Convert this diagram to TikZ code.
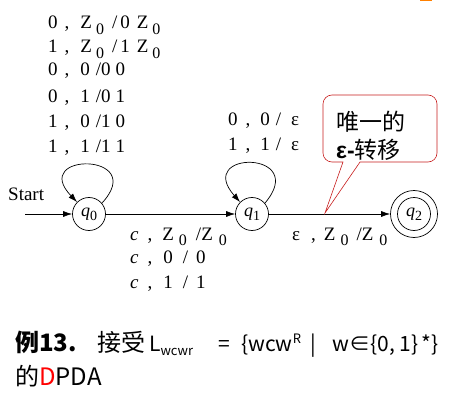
\documentclass[tikz,border=0pt]{standalone}
\usepackage{fontspec}
\setmainfont{Liberation Serif}
\newfontfamily\cjk{Noto Sans CJK SC}
\newfontfamily\lsans{Liberation Sans}
\usetikzlibrary{arrows.meta,calc}
\newcommand\gp[1]{\hspace{#1pt}}
\newcommand\lo[1]{\raisebox{-5.5pt}{\fontsize{16}{16}\selectfont #1}}
\newcommand\qs[1]{\textit{q}\raisebox{-4pt}{\fontsize{14}{14}\selectfont #1}}
\definecolor{callred}{RGB}{200,30,30}
\begin{document}
\begin{tikzpicture}[x=1pt,y=-1pt,
  lbl/.style={anchor=base west, inner sep=0pt, font=\fontsize{19}{19}\selectfont},
  captxt/.style={anchor=base west, inner sep=0pt, font=\cjk\fontsize{24}{24}\selectfont},
  capl/.style={anchor=base west, inner sep=0pt, font=\cjk\fontsize{21}{21}\selectfont},
  state/.style={circle, draw, line width=0.7pt, minimum size=33pt, inner sep=0pt, font=\fontsize{18}{18}\selectfont},
  edge/.style={line width=0.7pt, -{Latex[length=9pt,width=6pt]}}]
\useasboundingbox (0,0) rectangle (455,401);
\fill[orange] (420,0) rectangle (432,1.5);
% states
\node[state] (q0) at (89,214) {\qs{0}};
\node[state] (q1) at (252,214) {\qs{1}};
\node[state, minimum size=47pt] (q2) at (414,214) {};
\node[state] (q2in) at (q2) {\qs{2}};
\coordinate (s) at (25,214);
\node[lbl] (start) at (8,200) {Start};
% edges
\draw[edge] (s) -- (q0);
\draw[edge] (q0) -- (q1);
\draw[edge] (q1) -- (q2);
\draw[edge] (q0.40) .. controls ($(q0)+(60,-62)$) and ($(q0)+(-60,-62)$) .. (q0.135);
\draw[edge] (q1.40) .. controls ($(q1)+(58,-64)$) and ($(q1)+(-58,-64)$) .. (q1.135);
% labels on q0 loop
\node[lbl] (l1) at (48,29) {0\gp{7},\gp{11}Z\gp{4}\lo{0}\gp{8}/\gp{3}0\gp{7}Z\gp{4}\lo{0}};
\node[lbl] (l2) at (48,53) {1\gp{7},\gp{11}Z\gp{4}\lo{0}\gp{8}/\gp{3}1\gp{7}Z\gp{4}\lo{0}};
\node[lbl] (l3) at (48,76) {0\gp{7},\gp{11}0\gp{6}/0\gp{5}0};
\node[lbl] (l4) at (48,103) {0\gp{7},\gp{11}1\gp{6}/0\gp{5}1};
\node[lbl] (l5) at (48,128) {1\gp{7},\gp{11}0\gp{6}/1\gp{5}0};
\node[lbl] (l6) at (48,153) {1\gp{7},\gp{11}1\gp{6}/1\gp{5}1};
% labels on q1 loop
\node[lbl] (m1) at (228,125) {0\gp{8},\gp{10}0\gp{6}/\gp{10}ε};
\node[lbl] (m2) at (228,150) {1\gp{8},\gp{10}1\gp{6}/\gp{10}ε};
% labels under q0->q1
\node[lbl] (b1) at (130,240) {\textit{c}\gp{9},\gp{10}Z\gp{5}\lo{0}\gp{9}/Z\gp{6}\lo{0}};
\node[lbl] (b2) at (130,263) {\textit{c}\gp{9},\gp{11}0\gp{10}/\gp{8}0};
\node[lbl] (b3) at (130,288) {\textit{c}\gp{9},\gp{11}1\gp{10}/\gp{8}1};
% label under q1->q2
\node[lbl] (r1) at (292,240) {ε\gp{11},\gp{8}Z\gp{5}\lo{0}\gp{8}/Z\gp{6}\lo{0}};
% callout
\coordinate (tip) at (325,213);
\draw[callred, line width=0.6pt, fill=white] (343,162) [rounded corners=9pt] -- (323,162) -- (323,95) -- (437,95) -- (437,162) [sharp corners] -- (360,162) -- (tip) -- cycle;
\node[anchor=base west, inner sep=0pt, font=\cjk\fontsize{23}{23}\selectfont] (c1) at (336,131) {唯一的};
\node[anchor=base west, inner sep=0pt, font=\cjk\fontsize{23}{23}\selectfont] (c2) at (336,158) {{\lsans\bfseries ε-}转移};
% caption
\node[captxt, font=\cjk\bfseries\fontsize{24}{24}\selectfont] (t1) at (15,351) {例13.};
\node[captxt] (t2) at (97,351) {接受};
\node[capl] (t3) at (149,351) {L\raisebox{-4pt}{\fontsize{13}{13}\selectfont wcwr}};
\node[capl] (t4) at (218,351) {=};
\node[capl] (t5) at (241,351) {\{wcw\raisebox{8pt}{\fontsize{13}{13}\selectfont R}};
\node[capl] (t6) at (310,351) {|};
\node[capl, anchor=base east] (t7) at (439,351) {w∈\{0, 1\}\,*\}};
\node[captxt] (u1) at (15,385) {的\textcolor{red}{D}PDA};
\end{tikzpicture}
\end{document}
